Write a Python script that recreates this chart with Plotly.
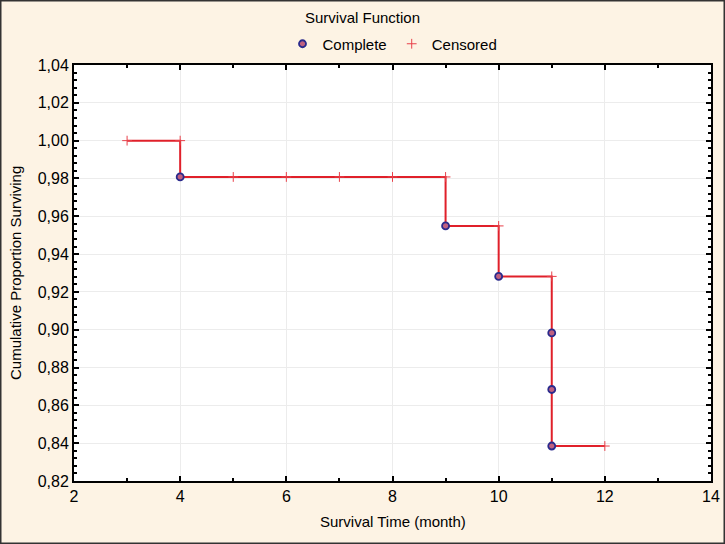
import plotly.graph_objects as go

# Step line (Kaplan-Meier estimate)
step_x = [3, 4, 9, 10, 11, 12]
step_y = [1.0, 0.9808, 0.9549, 0.9282, 0.8385, 0.8385]

# Complete (event) observations
complete_x = [4, 9, 10, 11, 11, 11]
complete_y = [0.9808, 0.9549, 0.9282, 0.8983, 0.8684, 0.8385]

# Censored observations
censored_x = [3, 4, 5, 6, 7, 8, 9, 10, 11, 12]
censored_y = [1.0, 1.0, 0.9808, 0.9808, 0.9808, 0.9808, 0.9808, 0.9549, 0.9282, 0.8385]

x_ticks = [2, 4, 6, 8, 10, 12, 14]
y_ticks = [0.82, 0.84, 0.86, 0.88, 0.90, 0.92, 0.94, 0.96, 0.98, 1.00, 1.02, 1.04]

FONT = "Liberation Sans, Arial"
L, R, T, B = 74, 14, 65, 63
PW, PH = 725 - L - R, 544 - T - B

fig = go.Figure()
fig.add_trace(go.Scatter(x=step_x, y=step_y, mode="lines", line_shape="hv",
                         line=dict(color="#e0202a", width=2), showlegend=False,
                         hoverinfo="skip"))
fig.add_trace(go.Scatter(x=complete_x, y=complete_y, mode="markers", name="Complete",
                         marker=dict(symbol="circle", size=7, color="#c06080",
                                     line=dict(color="#2a2a8c", width=1.8))))
fig.add_trace(go.Scatter(x=censored_x, y=censored_y, mode="markers", name="Censored",
                         marker=dict(symbol="cross-thin", size=7,
                                     line=dict(color="#e8404a", width=1))))

axis_common = dict(showline=True, linecolor="black", linewidth=2, mirror="allticks",
                   ticks="inside", ticklen=5, tickwidth=2, tickcolor="black",
                   showgrid=True, gridcolor="#ececec", gridwidth=1, zeroline=False,
                   automargin=False,
                   tickfont=dict(family=FONT, size=16, color="black"))

fig.update_xaxes(range=[2, 14], tickvals=x_ticks, ticktext=[str(v) for v in x_ticks],
                 minor=dict(dtick=1, ticks="inside", ticklen=3, tickcolor="black", showgrid=False),
                 **axis_common)
fig.update_yaxes(range=[0.82, 1.04], tickvals=y_ticks,
                 ticktext=[f"{v:.2f}".replace(".", ",") for v in y_ticks],
                 minor=dict(dtick=0.004, tick0=0.82, ticks="inside", ticklen=3, tickcolor="black", showgrid=False),
                 **axis_common)

fig.update_layout(
    width=725, height=544,
    margin=dict(l=L, r=R, t=T, b=B),
    paper_bgcolor="#fdf3e4", plot_bgcolor="white",
    font=dict(family=FONT, size=14, color="black"),
    title=dict(text="Survival Function", x=0.5, xanchor="center", y=1 - 18 / 544, yanchor="middle",
               font=dict(family=FONT, size=15, color="black")),
    legend=dict(orientation="h", x=0.5, xanchor="center", y=1 + (T - 44) / PH, yanchor="middle",
                bgcolor="rgba(0,0,0,0)", font=dict(family=FONT, size=15, color="black")),
    annotations=[
        dict(text="Survival Time (month)", xref="paper", yref="paper", x=0.5,
             y=-(521 - (544 - B)) / PH, xanchor="center", yanchor="middle", showarrow=False,
             font=dict(family=FONT, size=15, color="black")),
        dict(text="Cumulative Proportion Surviving", xref="paper", yref="paper",
             x=(15 - L) / PW, y=0.5, xanchor="center", yanchor="middle", textangle=-90,
             showarrow=False, font=dict(family=FONT, size=15, color="black")),
    ],
    shapes=[dict(type="rect", xref="paper", yref="paper", x0=-L / PW, x1=1 + R / PW,
                 y0=-B / PH, y1=1 + T / PH, line=dict(color="#333333", width=3),
                 fillcolor="rgba(0,0,0,0)", layer="above")],
)

fig.write_html("out.html", config={"displayModeBar": False},
               post_script="document.body.style.margin='0';document.body.style.overflow='hidden';")
